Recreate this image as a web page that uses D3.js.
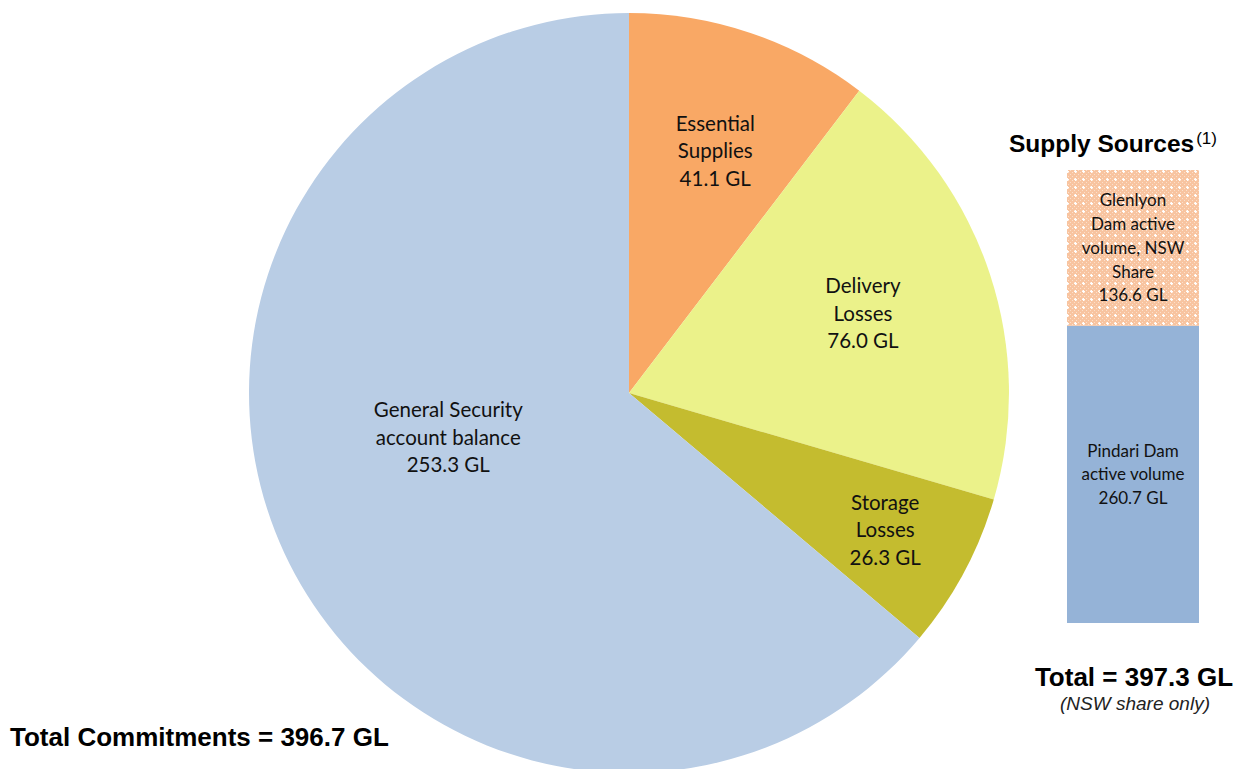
<!DOCTYPE html>
<html><head><meta charset="utf-8">
<script src="https://cdn.jsdelivr.net/npm/d3@7/dist/d3.min.js"></script>
<style>html,body{margin:0;padding:0;background:#fff;overflow:hidden}</style>
</head><body>
<svg id="c" width="1256" height="769"></svg>
<script>
// Data
const pieLabels = [["Essential", "Supplies"], ["Delivery", "Losses"], ["Storage", "Losses"], ["General Security", "account balance"]];
const pieValues = [41.1, 76.0, 26.3, 253.3];
const pieColors = ["#F9A865", "#EBF28A", "#C4BC2F", "#B9CDE5"];
const supplyLabels = [["Pindari Dam", "active volume"], ["Glenlyon", "Dam active", "volume, NSW", "Share"]];
const supplyValues = [260.7, 136.6];
const totalCommitments = "Total Commitments = 396.7 GL";
const totalSupply = "Total = 397.3 GL";

const svg = d3.select("#c");
const labelFont = "Lato, 'Open Sans', sans-serif";
const boldFont = "'Liberation Sans', Arial, sans-serif";

// pattern
const defs = svg.append("defs");
const pat = defs.append("pattern").attr("id", "dots").attr("patternUnits", "userSpaceOnUse")
  .attr("width", 8).attr("height", 8);
pat.append("rect").attr("width", 8).attr("height", 8).attr("fill", "#F8C4A0");
for (let i = 0; i < 8; i += 2) for (let j = 0; j < 8; j += 2) {
  if ((i + j) % 4 === 0) pat.append("rect").attr("x", i).attr("y", j).attr("width", 1).attr("height", 1).attr("fill", "#FCE0CB");
}
pat.append("rect").attr("x", 3).attr("y", 2).attr("width", 1).attr("height", 3).attr("fill", "#fff");
pat.append("rect").attr("x", 2).attr("y", 3).attr("width", 3).attr("height", 1).attr("fill", "#fff");

// Pie
const cx = 629, cy = 393, R = 380;
const pie = d3.pie().sort(null).value(d => d)(pieValues);
const arc = d3.arc().innerRadius(0).outerRadius(R);
const g = svg.append("g").attr("transform", `translate(${cx},${cy})`);
g.selectAll("path").data(pie).join("path").attr("d", arc).attr("fill", (d, i) => pieColors[i]);

const labelK = [0.675, 0.65, 0.765, 0.49];
const labelDelta = [1, -0.5, 0, 11];
pie.forEach((d, i) => {
  const a = (d.startAngle + d.endAngle) / 2 + labelDelta[i] * Math.PI / 180;
  const x = Math.sin(a) * R * labelK[i], y = -Math.cos(a) * R * labelK[i];
  const lines = pieLabels[i].concat([d3.format(".1f")(pieValues[i]) + " GL"]);
  const t = g.append("text").attr("text-anchor", "middle").attr("font-family", labelFont)
    .attr("font-size", 20.5).attr("fill", "#111");
  lines.forEach((l, k) => t.append("tspan").attr("x", x).attr("y", y + (k - (lines.length - 1) / 2) * 27.5 + 7).text(l));
});

svg.append("text").attr("x", 10).attr("y", 746).attr("font-family", boldFont).attr("font-weight", "bold")
  .attr("font-size", 26).attr("fill", "#000").text(totalCommitments);

// Stacked bar
const bx = 1067, bw = 132;
const total = d3.sum(supplyValues);
const y = d3.scaleLinear().domain([0, total]).range([623, 170]);
let acc = 0;
const stacks = supplyValues.map(v => { const s = { y0: acc, y1: acc + v, v }; acc += v; return s; });
const fills = ["#95B3D7", "url(#dots)"];
stacks.forEach((s, i) => {
  svg.append("rect").attr("x", bx).attr("y", y(s.y1)).attr("width", bw).attr("height", y(s.y0) - y(s.y1)).attr("fill", fills[i]);
  const lines = supplyLabels[i].concat([d3.format(".1f")(s.v) + " GL"]);
  const mid = (y(s.y0) + y(s.y1)) / 2;
  const t = svg.append("text").attr("text-anchor", "middle").attr("font-family", labelFont)
    .attr("font-size", 17).attr("fill", "#111");
  lines.forEach((l, k) => t.append("tspan").attr("x", bx + bw / 2).attr("y", mid + (k - (lines.length - 1) / 2) * 23.8 + 6).text(l));
});

const title = svg.append("text").attr("x", 1009).attr("y", 152).attr("font-family", boldFont)
  .attr("font-weight", "bold").attr("font-size", 24.5).attr("fill", "#000");
title.append("tspan").text("Supply Sources");
title.append("tspan").attr("font-weight", "normal").attr("font-size", 17).attr("dx", 2).attr("dy", -8).text("(1)");

svg.append("text").attr("x", 1134).attr("y", 686).attr("text-anchor", "middle").attr("font-family", boldFont)
  .attr("font-weight", "bold").attr("font-size", 26).attr("fill", "#000").text(totalSupply);
svg.append("text").attr("x", 1135).attr("y", 710).attr("text-anchor", "middle").attr("font-family", boldFont)
  .attr("font-style", "italic").attr("font-size", 19).attr("fill", "#222").text("(NSW share only)");
</script>
</body></html>
